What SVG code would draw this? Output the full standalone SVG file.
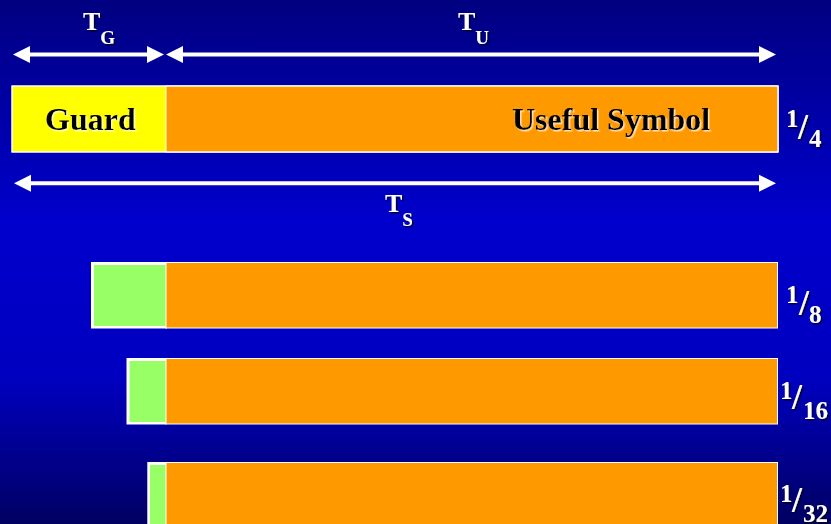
<svg xmlns="http://www.w3.org/2000/svg" width="831" height="524" viewBox="0 0 831 524">
<defs>
<linearGradient id="bg" x1="0" y1="0" x2="0" y2="1">
<stop offset="0" stop-color="#000080"/>
<stop offset="0.42" stop-color="#0000CC"/>
<stop offset="0.72" stop-color="#0000C0"/>
<stop offset="1" stop-color="#000062"/>
</linearGradient>
<marker id="ah" viewBox="0 -9 17 18" refX="0" refY="0" markerWidth="17" markerHeight="18" markerUnits="userSpaceOnUse" orient="auto-start-reverse">
<path d="M0,-8.5 L17,0 L0,8.5 z" fill="#fff"/>
</marker>
<filter id="shW" x="-10%" y="-10%" width="130%" height="140%">
<feDropShadow dx="1.5" dy="1.5" stdDeviation="0.4" flood-color="#000020" flood-opacity="0.9"/>
</filter>
<filter id="shB" x="-10%" y="-10%" width="130%" height="140%">
<feDropShadow dx="1.5" dy="1.5" stdDeviation="0.4" flood-color="#ffffff" flood-opacity="0.7"/>
</filter>
</defs>
<style>
.t{font-family:"Liberation Serif","Times New Roman",serif;font-weight:bold}
.w{fill:#fff;filter:url(#shW)}
.b{fill:#000;filter:url(#shB)}
.n{font-size:25px}
.s{font-size:36px}
.arr{stroke:#fff;stroke-width:4;fill:none;marker-start:url(#ah);marker-end:url(#ah)}
.org{fill:#FF9900;stroke:#fff;stroke-width:1}
.grn{fill:#99FF66}
.frm{fill:#fff}
</style>
<rect x="0" y="0" width="831" height="524" fill="url(#bg)"/>

<g id="connectors">
<line class="arr" x1="30" y1="54.5" x2="147" y2="54.5"/>
<line class="arr" x1="183" y1="54.5" x2="759" y2="54.5"/>
<line class="arr" x1="31" y1="183.3" x2="759" y2="183.3"/>
</g>

<g id="labels">
<text class="t w" x="83" y="30" font-size="26">T<tspan font-size="19" dy="14">G</tspan></text>
<text class="t w" x="458" y="30" font-size="26">T<tspan font-size="19" dy="14">U</tspan></text>
<text class="t w" x="385" y="212" font-size="26">T<tspan font-size="19" dy="14">S</tspan></text>
</g>

<g id="bar-quarter">
<rect x="12" y="86" width="766" height="66" fill="#FFFF00" stroke="#fff" stroke-width="1"/>
<rect class="org" x="166" y="86" width="612" height="66" stroke-width="0"/>
<rect x="12" y="86" width="766" height="66" fill="none" stroke="#fff" stroke-width="1"/>
<text class="t b" x="45" y="130" font-size="32">Guard</text>
<text class="t b" x="512" y="130" font-size="32">Useful Symbol</text>
<text class="t w n" x="786" y="127">1</text>
<text class="t w s" x="798" y="138.5">/</text>
<text class="t w n" x="809" y="147">4</text>
</g>

<g id="bar-eighth">
<rect class="frm" x="91" y="262" width="76" height="66.5"/>
<rect class="grn" x="94" y="265" width="72" height="61"/>
<rect class="org" x="166" y="262.5" width="611.5" height="65.5"/>
<text class="t w n" x="786" y="303">1</text>
<text class="t w s" x="799" y="314.5">/</text>
<text class="t w n" x="809" y="323">8</text>
</g>

<g id="bar-sixteenth">
<rect class="frm" x="126.5" y="358" width="40" height="66.5"/>
<rect class="grn" x="129.5" y="361" width="36.5" height="61"/>
<rect class="org" x="166" y="358.5" width="611.5" height="65.5"/>
<text class="t w n" x="780" y="399">1</text>
<text class="t w s" x="792" y="408.5">/</text>
<text class="t w n" x="803" y="419">16</text>
</g>

<g id="bar-thirtysecond">
<rect class="frm" x="147.3" y="462" width="20" height="70"/>
<rect class="grn" x="150" y="465" width="16" height="65"/>
<rect class="org" x="166" y="462.5" width="611.5" height="70"/>
<text class="t w n" x="780" y="502">1</text>
<text class="t w s" x="792" y="511.5">/</text>
<text class="t w n" x="803" y="522">32</text>
</g>
</svg>
